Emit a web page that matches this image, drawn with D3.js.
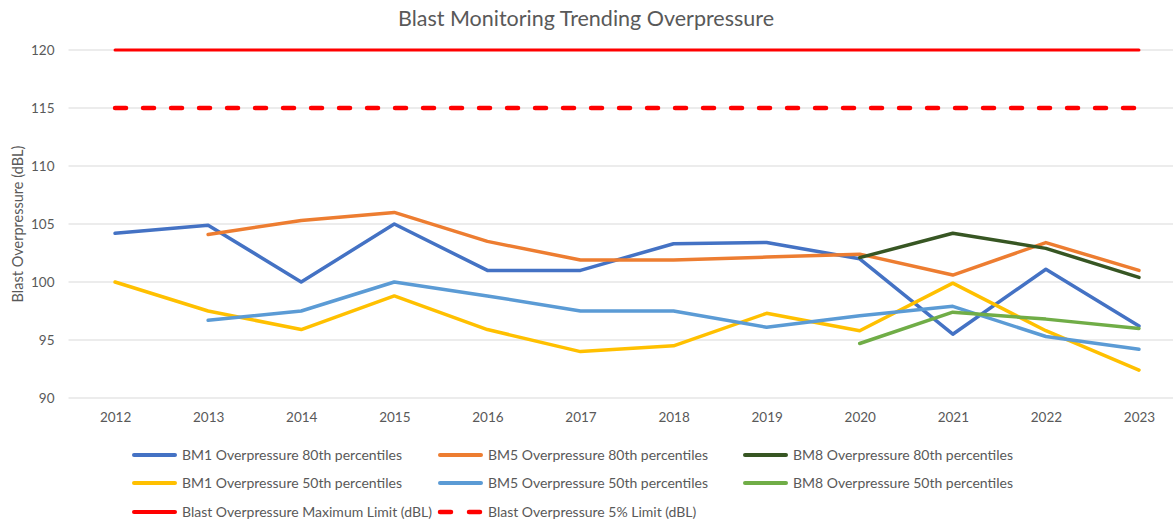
<!DOCTYPE html>
<html>
<head>
<meta charset="utf-8">
<script src="https://cdn.jsdelivr.net/npm/d3@7"></script>
<style>
  body { margin: 0; background: #fff; }
  text { font-family: Lato, "Open Sans", sans-serif; fill: #595959; }
</style>
</head>
<body>
<div id="chart"></div>
<script>
// years on the x axis
const years = ["2012", "2013", "2014", "2015", "2016", "2017", "2018", "2019", "2020", "2021", "2022", "2023"];
const yTicks = [90, 95, 100, 105, 110, 115, 120];

// series values (null = no reading)
const bm1p80 = [104.2, 104.9, 100, 105, 101, 101, 103.3, 103.4, 102, 95.5, 101.1, 96.2];
const bm5p80 = [null, 104.1, 105.3, 106, 103.5, 101.9, 101.9, 102.15, 102.4, 100.6, 103.4, 101];
const bm8p80 = [null, null, null, null, null, null, null, null, 102.1, 104.2, 102.9, 100.4];
const bm1p50 = [100, 97.5, 95.9, 98.8, 95.9, 94, 94.5, 97.3, 95.8, 99.9, 95.8, 92.4];
const bm5p50 = [null, 96.7, 97.5, 100, 98.8, 97.5, 97.5, 96.1, 97.1, 97.9, 95.3, 94.2];
const bm8p50 = [null, null, null, null, null, null, null, null, 94.7, 97.4, 96.8, 96];
const maxLimit = [120, 120, 120, 120, 120, 120, 120, 120, 120, 120, 120, 120];
const pctLimit = [115, 115, 115, 115, 115, 115, 115, 115, 115, 115, 115, 115];

const series = [
  {name: "BM1 Overpressure 80th percentiles", values: bm1p80, color: "#4472C4"},
  {name: "BM5 Overpressure 80th percentiles", values: bm5p80, color: "#ED7D31"},
  {name: "BM8 Overpressure 80th percentiles", values: bm8p80, color: "#375623"},
  {name: "BM1 Overpressure 50th percentiles", values: bm1p50, color: "#FFC000"},
  {name: "BM5 Overpressure 50th percentiles", values: bm5p50, color: "#5B9BD5"},
  {name: "BM8 Overpressure 50th percentiles", values: bm8p50, color: "#70AD47"},
  {name: "Blast Overpressure Maximum Limit (dBL)", values: maxLimit, color: "#FF0000", limit: true},
  {name: "Blast Overpressure 5% Limit (dBL)", values: pctLimit, color: "#FF0000", limit: true, dashed: true}
];

const W = 1173, H = 525;
const plot = {left: 68.5, right: 1185.5, top: 50, bottom: 398};

const svg = d3.select("#chart").append("svg")
  .attr("width", W).attr("height", H);

svg.append("rect").attr("width", W).attr("height", H).attr("fill", "#fff");

const x = d3.scalePoint().domain(years).range([plot.left, plot.right]).padding(0.5);
const y = d3.scaleLinear().domain([90, 120]).range([plot.bottom, plot.top]);

// gridlines
svg.append("g").selectAll("line").data(yTicks).join("line")
  .attr("x1", plot.left).attr("x2", plot.right)
  .attr("y1", d => y(d)).attr("y2", d => y(d))
  .attr("stroke", "#d9d9d9").attr("stroke-width", 1);

// y axis labels
const yAxis = svg.append("g")
  .attr("transform", `translate(${plot.left},0)`)
  .call(d3.axisLeft(y).tickValues(yTicks).tickSize(0).tickPadding(14));
yAxis.select(".domain").remove();
yAxis.selectAll("text").style("font-size", "13.5px").attr("fill", "#595959")
  .style("font-family", "Lato, 'Open Sans', sans-serif");

// x axis labels
const xAxis = svg.append("g")
  .attr("transform", `translate(0,${plot.bottom})`)
  .call(d3.axisBottom(x).tickSize(0).tickPadding(14));
xAxis.select(".domain").remove();
xAxis.selectAll("text").style("font-size", "13.5px").attr("fill", "#595959")
  .style("font-family", "Lato, 'Open Sans', sans-serif");

// lines
const line = d3.line()
  .defined(d => d != null)
  .x((d, i) => x(years[i]))
  .y(d => y(d));

const drawOrder = [6, 7, 0, 1, 2, 3, 4, 5];
drawOrder.forEach(k => {
  const s = series[k];
  svg.append("path")
    .datum(s.values)
    .attr("fill", "none")
    .attr("stroke", s.color)
    .attr("stroke-width", s.dashed ? 4.5 : (s.limit ? 3 : 3.5))
    .attr("stroke-linejoin", "round")
    .attr("stroke-linecap", "round")
    .attr("stroke-dasharray", s.dashed ? "11,17" : null)
    .attr("d", line);
});

// title
svg.append("text")
  .attr("x", 586).attr("y", 26)
  .attr("text-anchor", "middle")
  .style("font-size", "21.5px")
  .text("Blast Monitoring Trending Overpressure");

// y axis title
svg.append("text")
  .attr("transform", `translate(23,${(plot.top + plot.bottom) / 2}) rotate(-90)`)
  .attr("text-anchor", "middle")
  .style("font-size", "14.5px")
  .text("Blast Overpressure (dBL)");

// legend
const legendCols = [132, 438, 743];
const legendRows = [455, 483, 512];
series.forEach((s, i) => {
  const lx = legendCols[i % 3], ly = legendRows[Math.floor(i / 3)];
  const g = svg.append("g").attr("transform", `translate(${lx},${ly})`);
  if (s.dashed) {
    g.append("line").attr("x1", 2).attr("x2", 13).attr("y1", 0).attr("y2", 0)
      .attr("stroke", s.color).attr("stroke-width", 4.5).attr("stroke-linecap", "round");
    g.append("line").attr("x1", 31).attr("x2", 42).attr("y1", 0).attr("y2", 0)
      .attr("stroke", s.color).attr("stroke-width", 4.5).attr("stroke-linecap", "round");
  } else {
    g.append("line").attr("x1", 2).attr("x2", 43).attr("y1", 0).attr("y2", 0)
      .attr("stroke", s.color).attr("stroke-width", 4).attr("stroke-linecap", "round");
  }
  g.append("text").attr("x", 50).attr("y", 0).attr("dy", "0.35em")
    .style("font-size", "14px").text(s.name);
});
</script>
</body>
</html>
